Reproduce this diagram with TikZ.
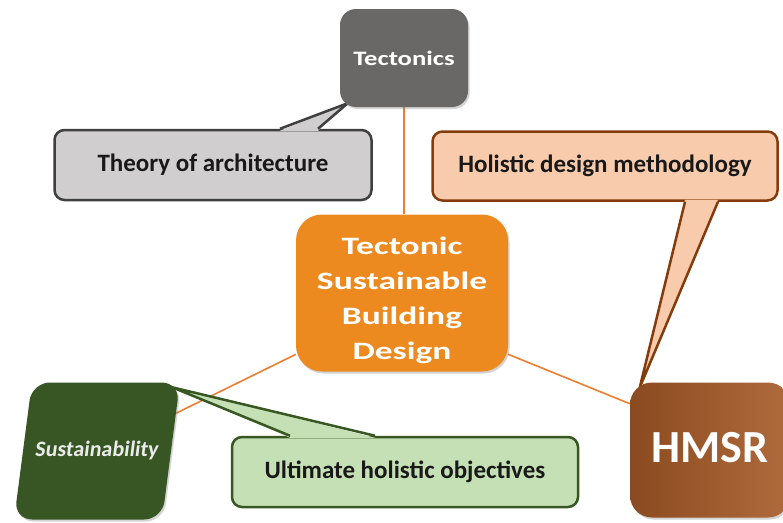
\documentclass[tikz,border=0pt]{standalone}
\usepackage{fontspec}
\setmainfont{Carlito}
\newfontfamily\widefont{Carlito}[FakeStretch=1.3]
\newfontfamily\widerfont{Carlito}[FakeStretch=1.42]
\usetikzlibrary{shadows}

\definecolor{tectgray}{HTML}{6A6866}
\definecolor{tsbdorange}{HTML}{EC8A1F}
\definecolor{sustgreen}{HTML}{375623}
\definecolor{hmsrleft}{HTML}{8B4A1F}
\definecolor{hmsrright}{HTML}{B06B3D}
\definecolor{theoryfill}{HTML}{D0CECE}
\definecolor{theoryedge}{HTML}{3F3F3F}
\definecolor{holfill}{HTML}{F8CBAD}
\definecolor{holedge}{HTML}{843C0C}
\definecolor{ultifill}{HTML}{C5E0B4}
\definecolor{ultiedge}{HTML}{385723}
\definecolor{linkorange}{HTML}{ED7D31}

\pgfdeclarelayer{back}
\pgfsetlayers{back,main}

\tikzset{
    boxnode/.style={rounded corners=16pt, text=white, align=center,
        drop shadow={opacity=0.35, shadow xshift=1.5pt, shadow yshift=-2pt}},
    calloutnote/.style={rounded corners=10pt, line width=2.5pt, text=black!90,
        font=\bfseries\fontsize{25}{30}\selectfont},
    pointer/.style={line width=2.5pt, line join=round},
    linkline/.style={draw=linkorange, line width=1.6pt},
}

\begin{document}
\begin{tikzpicture}[x=1pt, y=-1pt]
    \useasboundingbox (0,0) rectangle (783,522);
    \clip (0,0) rectangle (783,522);

    % the four boxes
    \node[boxnode, fill=tectgray, minimum width=128pt, minimum height=98pt,
        font=\widefont\bfseries\fontsize{20.5}{24}\selectfont] (tect) at (404,58) {Tectonics};
    \node[boxnode, fill=tsbdorange, minimum width=212pt, minimum height=157pt, rounded corners=26pt,
        font=\widerfont\bfseries\fontsize{25}{35}\selectfont] (tsbd) at (402,293)
        {\rule{0pt}{32pt}Tectonic\\Sustainable\\Building\\Design};
    \begin{scope}[shift={(97,451)}, xslant=0.13]
        \node[boxnode, transform shape, fill=sustgreen, minimum width=148pt, minimum height=137pt,
            rounded corners=18pt, text=white!92!black,
            font=\bfseries\fontsize{22}{26}\selectfont] (sust) at (0,0) {Sustainability};
    \end{scope}
    \node[boxnode, left color=hmsrleft, right color=hmsrright, minimum width=160pt,
        minimum height=135pt, rounded corners=22pt, text depth=6pt,
        font=\bfseries\fontsize{46}{50}\selectfont] (hmsr) at (710,450) {HMSR};

    \begin{pgfonlayer}{back}
        % links
        \draw[linkline] (tect.south) -- (tect.south |- tsbd.north);
        \draw[linkline] (tsbd.210) -- (sust.27);
        \draw[linkline] (tsbd.330) -- (hmsr.150);

        % Tectonics note
        \node[calloutnote, fill=theoryfill, draw=theoryedge, minimum width=317pt,
            minimum height=70pt] (theory) at (213,165) {Theory of architecture};
        \fill[theoryfill] ([shift={(67,2)}]theory.north) -- ([shift={(8,-4)}]tect.south west)
            -- ([shift={(105,2)}]theory.north) -- cycle;
        \draw[pointer, theoryedge] ([shift={(67,0)}]theory.north) -- ([shift={(8,-4)}]tect.south west)
            -- ([shift={(105,0)}]theory.north);

        % HMSR note
        \node[calloutnote, fill=holfill, draw=holedge, minimum width=345pt,
            minimum height=69pt] (hol) at (605,166) {Holistic design methodology};
        \fill[holfill] ([shift={(80,-2)}]hol.south) -- ([shift={(10,5)}]hmsr.north west)
            -- ([shift={(113,-2)}]hol.south) -- cycle;
        \draw[pointer, holedge] ([shift={(80,0)}]hol.south) -- ([shift={(10,5)}]hmsr.north west)
            -- ([shift={(113,0)}]hol.south);

        % Sustainability note
        \node[calloutnote, fill=ultifill, draw=ultiedge, minimum width=346pt,
            minimum height=70pt] (ulti) at (405,472) {Ultimate holistic objectives};
        \fill[ultifill] ([shift={(-115,2)}]ulti.north) -- ([shift={(-8,5)}]sust.north east)
            -- ([shift={(-30,2)}]ulti.north) -- cycle;
        \draw[pointer, ultiedge] ([shift={(-115,0)}]ulti.north) -- ([shift={(-8,5)}]sust.north east)
            -- ([shift={(-30,0)}]ulti.north);
    \end{pgfonlayer}
\end{tikzpicture}
\end{document}
